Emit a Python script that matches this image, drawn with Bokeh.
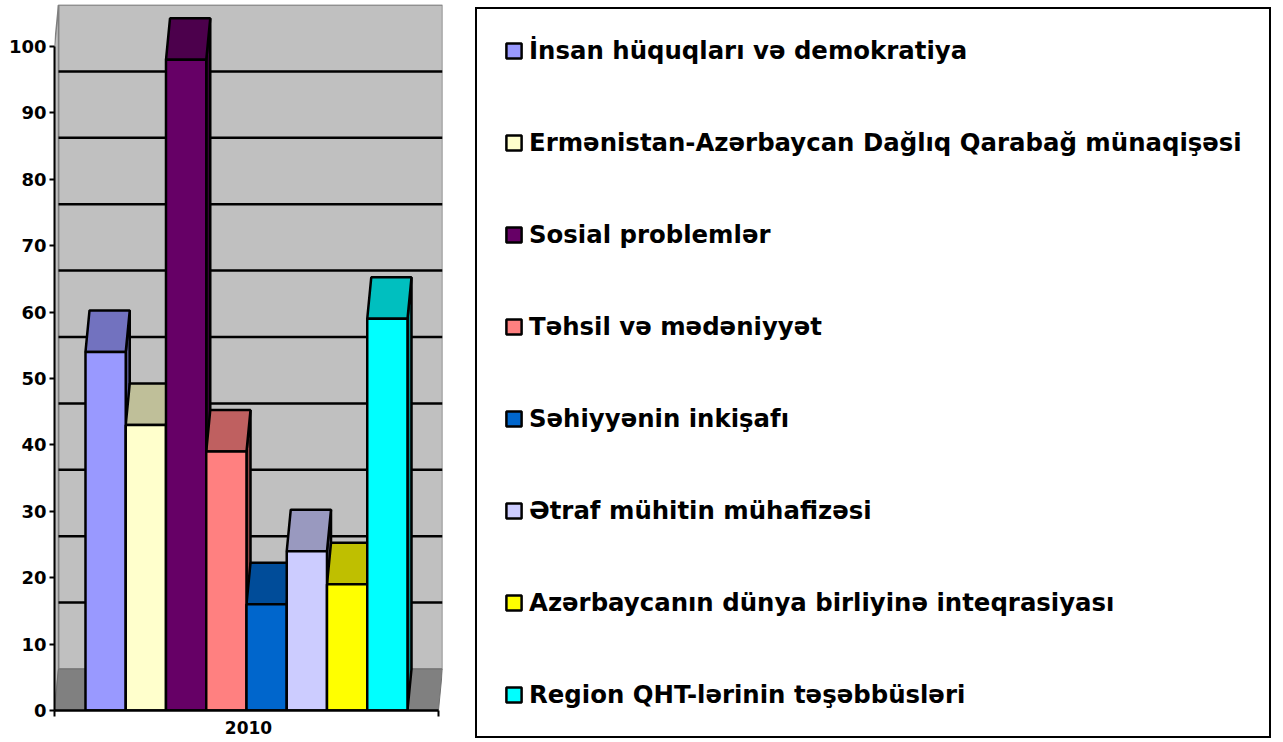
from bokeh.plotting import figure
from bokeh.models import Range1d, FixedTicker, Legend, LegendItem, ColumnDataSource
from bokeh.embed import file_html
from bokeh.resources import INLINE

# ---- data ----
categories = [
    "İnsan hüquqları və demokratiya",
    "Ermənistan-Azərbaycan Dağlıq Qarabağ münaqişəsi",
    "Sosial problemlər",
    "Təhsil və mədəniyyət",
    "Səhiyyənin inkişafı",
    "Ətraf mühitin mühafizəsi",
    "Azərbaycanın dünya birliyinə inteqrasiyası",
    "Region QHT-lərinin təşəbbüsləri",
]
values = [54, 43, 98, 39, 16, 24, 19, 59]
colors = ["#9999FF", "#FFFFCC", "#660066", "#FF8080",
          "#0066CC", "#CCCCFF", "#FFFF00", "#00FFFF"]
year = "2010"
y_ticks = list(range(0, 101, 10))

FONT = "DejaVu Sans"


def shade(hex_color, f):
    h = hex_color.lstrip("#")
    r, g, b = (int(h[k:k + 2], 16) for k in (0, 2, 4))
    return "#%02X%02X%02X" % (int(r * f), int(g * f), int(b * f))


# 3-D geometry (in data units)
n = len(values)
X0, X1 = -0.77, n + 0.77
DX, DY = 0.10, 6.25
YTOP = y_ticks[-1]
YMAX = YTOP + DY + 0.08

p = figure(frame_width=388, frame_height=706,
           x_range=Range1d(X0, X1 + DX), y_range=Range1d(0, YMAX),
           output_backend="svg", toolbar_location=None,
           min_border_left=54, min_border_right=0, min_border_top=4, min_border_bottom=32)
p.outline_line_color = None
p.grid.visible = False
p.background_fill_color = "white"

# walls and floor
p.quad(left=[X0 + DX], right=[X1 + DX], bottom=[DY], top=[YTOP + DY],
       fill_color="#C0C0C0", line_color="#808080", line_width=1.5)
p.patch([X0, X0 + DX, X0 + DX, X0], [0, DY, YTOP + DY, YTOP],
        fill_color="#C0C0C0", line_color="#808080", line_width=1.5)
p.patch([X0, X1, X1 + DX, X0 + DX], [0, 0, DY, DY],
        fill_color="#808080", line_color="#707070", line_width=1)

# gridlines on the back wall
gv = y_ticks[1:-1]
p.segment(x0=[X0 + DX] * len(gv), x1=[X1 + DX] * len(gv),
          y0=[v + DY for v in gv], y1=[v + DY for v in gv],
          line_color="black", line_width=2.5)

# bars
idx = list(range(n))
side_src = ColumnDataSource(dict(
    xs=[[i + 1, i + 1 + DX, i + 1 + DX, i + 1] for i in idx],
    ys=[[0, DY, v + DY, v] for v in values],
    c=[shade(c, 0.55) for c in colors]))
top_src = ColumnDataSource(dict(
    xs=[[i, i + 1, i + 1 + DX, i + DX] for i in idx],
    ys=[[v, v, v + DY, v + DY] for v in values],
    c=[shade(c, 0.75) for c in colors]))
front_src = ColumnDataSource(dict(
    left=idx, right=[i + 1 for i in idx], top=values, bottom=[0] * n, c=colors))

p.patches("xs", "ys", source=side_src, fill_color="c", line_color="black", line_width=2.5)
p.patches("xs", "ys", source=top_src, fill_color="c", line_color="black", line_width=2.5)
fronts = p.quad(left="left", right="right", top="top", bottom="bottom", source=front_src,
                fill_color="c", line_color="black", line_width=2.5)

# axes
ya = p.yaxis[0]
ya.ticker = FixedTicker(ticks=y_ticks)
ya.bounds = (0, YTOP)
ya.axis_line_width = 2
ya.major_tick_line_width = 2
ya.major_tick_out = 5
ya.major_tick_in = 0
ya.minor_tick_line_color = None
ya.major_label_standoff = 3
ya.major_label_text_font = FONT
ya.major_label_text_font_style = "bold"
ya.major_label_text_font_size = "18px"
ya.major_label_text_color = "black"

xa = p.xaxis[0]
xa.ticker = FixedTicker(ticks=[X0, X1])
xa.bounds = (X0, X1)
xa.axis_line_width = 2.5
xa.major_tick_line_width = 2
xa.major_tick_out = 6
xa.major_tick_in = 0
xa.minor_tick_line_color = None
xa.major_label_text_font_size = "1px"
xa.major_label_text_color = None
xa.major_label_standoff = 0
xa.axis_label = year
xa.axis_label_standoff = 4
xa.axis_label_text_font = FONT
xa.axis_label_text_font_style = "bold"
xa.axis_label_text_font_size = "17px"
xa.axis_label_text_color = "black"

# legend (in the right-hand panel)
items = [LegendItem(label=cat, renderers=[fronts], index=i) for i, cat in enumerate(categories)]
legend = Legend(items=items, location=(33, -28), margin=0, padding=27,
                glyph_width=19, glyph_height=19, label_standoff=6,
                spacing=63, border_line_color="black", border_line_width=2.5,
                border_line_alpha=1,
                background_fill_color="white", background_fill_alpha=1,
                label_text_font=FONT, label_text_font_style="bold",
                label_text_font_size="24.4px", label_text_color="black")
p.add_layout(legend, "right")

open("out.html", "w").write(file_html(p, INLINE))
